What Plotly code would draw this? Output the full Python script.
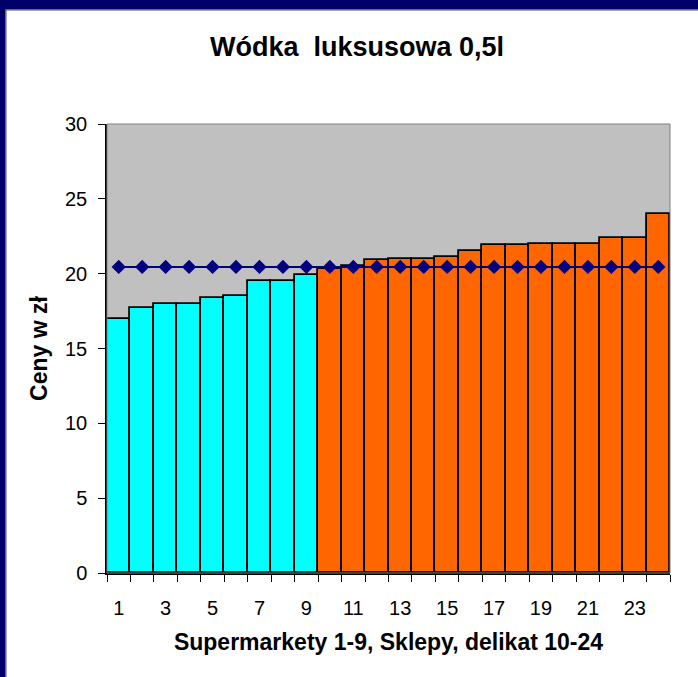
import plotly.graph_objects as go

shops = list(range(1, 25))
prices = [17.0, 17.7, 18.0, 18.0, 18.4, 18.5, 19.5, 19.5, 19.9,
          20.3, 20.5, 20.9, 21.0, 21.0, 21.1, 21.5, 21.9, 21.9, 22.0, 22.0, 22.0, 22.4, 22.4, 24.0]
average = [20.45] * 24
bar_colors = ["#00FFFF"] * 9 + ["#FF6600"] * 15
x_ticks = list(range(1, 24, 2))
y_ticks = [0, 5, 10, 15, 20, 25, 30]

W, H = 698, 677
L, R, T, B = 107, 28, 124, 104
pw, ph = W - L - R, H - T - B

def px(x):
    return (x - L) / pw

def py(y):
    return (H - B - y) / ph

NAVY = "#000068"

fig = go.Figure()
fig.add_trace(go.Bar(x=shops, y=prices, marker=dict(color=bar_colors, line=dict(color="black", width=1.8)),
                     width=1, showlegend=False, hoverinfo="x+y"))
fig.add_trace(go.Scatter(x=shops, y=average, mode="lines+markers",
                         line=dict(color="#000080", width=2),
                         marker=dict(symbol="diamond", size=11, color="#000080"),
                         showlegend=False))

font = "Liberation Sans, Arial, sans-serif"
fig.update_layout(
    width=W, height=H,
    margin=dict(l=L, r=R, t=T, b=B),
    paper_bgcolor="white",
    plot_bgcolor="#C0C0C0",
    bargap=0,
    font=dict(family=font, size=20, color="black"),
    title=dict(text="<b>Wódka  luksusowa 0,5l</b>", x=357 / W, xanchor="center",
               y=1 - 47 / H, yanchor="middle", font=dict(size=27)),
    xaxis=dict(range=[0.5, 24.5], tickvals=x_ticks, ticks="", showgrid=False, zeroline=False,
               showline=True, linecolor="black", linewidth=1.5,
               ticklabelstandoff=16,
               minor=dict(tick0=0.5, dtick=1, ticks="outside", ticklen=7, tickcolor="black", tickwidth=1),
               title=dict(text="<b>Supermarkety 1-9, Sklepy, delikat 10-24</b>", font=dict(size=23), standoff=16)),
    yaxis=dict(range=[0, 30], tickvals=y_ticks, ticks="outside", ticklen=7, tickcolor="black",
               showgrid=False, zeroline=False, showline=True, linecolor="black", linewidth=1.5,
               ticklabelstandoff=7,
               title=dict(text="<b>Ceny w zł</b>", font=dict(size=23), standoff=11)),
    shapes=[
        dict(type="rect", xref="paper", yref="paper", x0=0, x1=1, y0=0, y1=1,
             line=dict(color="#808080", width=1), layer="above"),
        dict(type="rect", xref="paper", yref="paper", x0=px(0), x1=px(W), y0=py(0), y1=py(9.5),
             fillcolor=NAVY, line=dict(width=0), layer="above"),
        dict(type="rect", xref="paper", yref="paper", x0=px(0), x1=px(5.5), y0=py(0), y1=py(H),
             fillcolor=NAVY, line=dict(width=0), layer="above"),
        dict(type="line", xref="paper", yref="paper", x0=px(5.5), x1=px(W), y0=py(10), y1=py(10),
             line=dict(color="#505050", width=1), layer="above"),
        dict(type="line", xref="paper", yref="paper", x0=px(6), x1=px(6), y0=py(10), y1=py(H),
             line=dict(color="#505050", width=1), layer="above"),
    ],
)

fig.write_html("out.html", config={"displayModeBar": False},
               post_script="document.body.style.margin='0px';")
